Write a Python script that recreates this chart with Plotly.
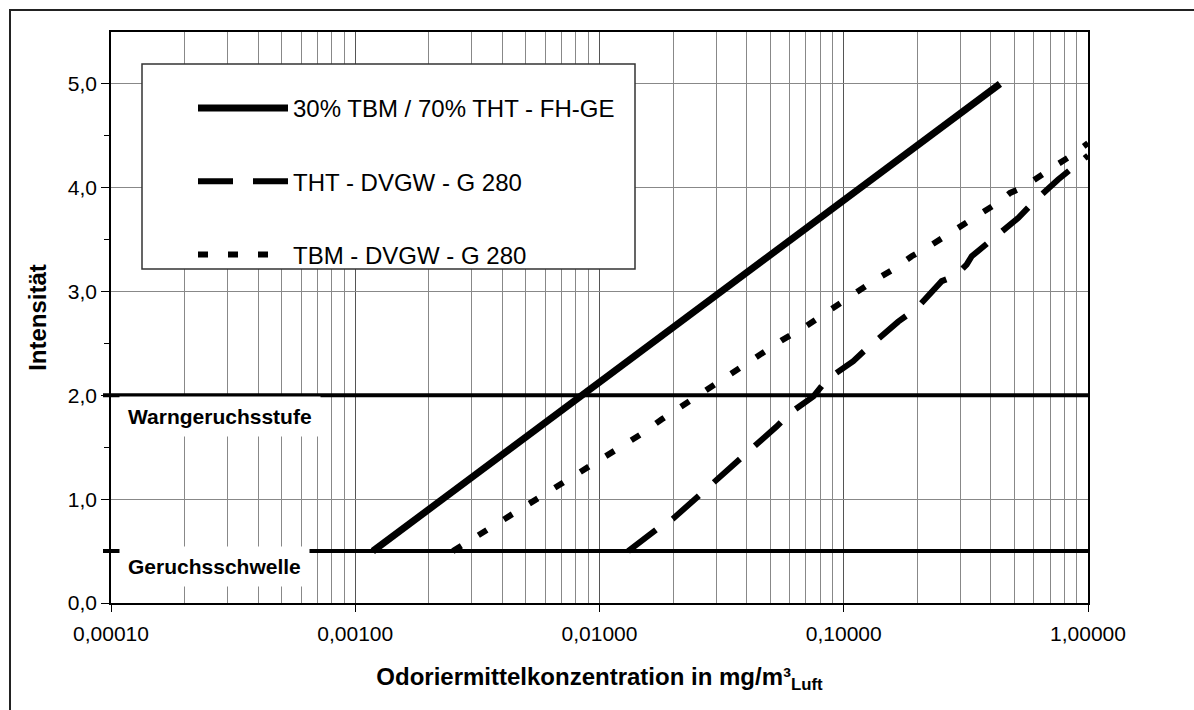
import plotly.graph_objects as go

FONT = "Arial, 'Liberation Sans', sans-serif"

# ---------------- data ----------------
series_names = ["30% TBM / 70% THT - FH-GE", "THT - DVGW - G 280", "TBM - DVGW - G 280"]

mix_x = [0.00118, 0.436]
mix_y = [0.50, 5.00]

tht_x = [0.0131, 0.01714, 0.01995, 0.02576, 0.02924, 0.03758, 0.04198, 0.05309,
         0.06026, 0.07516, 0.08511, 0.1094, 0.1202, 0.1476, 0.1671, 0.1991,
         0.2188, 0.2518, 0.2858, 0.3184, 0.3342, 0.3784, 0.4093, 0.4943,
         0.5188, 0.5970, 0.6166, 0.7211, 0.7551, 1.0]
tht_y = [0.50, 0.71, 0.81, 1.04, 1.17, 1.38, 1.49, 1.70,
         1.83, 1.99, 2.15, 2.33, 2.42, 2.60, 2.71, 2.84,
         2.95, 3.10, 3.15, 3.26, 3.34, 3.44, 3.52, 3.66,
         3.71, 3.86, 3.89, 4.05, 4.08, 4.31]

tbm_x = [0.00251, 0.00333, 0.00428, 0.00545, 0.00700, 0.00891, 0.01138, 0.01466,
         0.01799, 0.02275, 0.02877, 0.03589, 0.04395, 0.05572, 0.06934, 0.08375,
         0.1076, 0.1321, 0.1585, 0.1897, 0.2254, 0.2600, 0.2992, 0.3388,
         0.3908, 0.4365, 0.4797, 0.5358, 0.5970, 0.6668, 0.7551, 0.8433, 1.0]
tbm_y = [0.50, 0.68, 0.84, 0.99, 1.15, 1.31, 1.47, 1.62,
         1.77, 1.93, 2.08, 2.24, 2.37, 2.53, 2.66, 2.79,
         2.95, 3.10, 3.21, 3.34, 3.44, 3.53, 3.63, 3.71,
         3.79, 3.87, 3.95, 4.00, 4.07, 4.15, 4.23, 4.30, 4.43]

threshold_values = [2.0, 0.5]
threshold_labels = ["Warngeruchsstufe", "Geruchsschwelle"]

x_tickvals = [0.0001, 0.001, 0.01, 0.1, 1.0]
x_ticktext = ["0,00010", "0,00100", "0,01000", "0,10000", "1,00000"]
x_minor_mantissas = [2, 3, 4, 5, 6, 7, 8, 9]
y_tickvals = [0, 1, 2, 3, 4, 5]
y_ticktext = ["0,0", "1,0", "2,0", "3,0", "4,0", "5,0"]
y_minor_tickvals = [0.5, 1.5, 2.5, 3.5, 4.5]

x_title = "<b>Odoriermittelkonzentration in mg/m³<sub>Luft</sub></b>"
y_title = "<b>Intensität</b>"

# ---------------- figure ----------------
W, H = 1194, 710
ML, MR, MT, MB = 111, 106, 32, 107
PW = W - ML - MR
PH = H - MT - MB


def px_x(px):
    return (px - ML) / PW


def px_y(py):
    return (H - MB - py) / PH


x_minor_vals = [m * d for d in x_tickvals[:-1] for m in x_minor_mantissas]

fig = go.Figure()

fig.add_trace(go.Scatter(
    x=mix_x, y=mix_y, mode="lines", name=series_names[0], legendgroup="g1",
    line=dict(color="black", width=7)))
fig.add_trace(go.Scatter(
    x=tht_x, y=tht_y, mode="lines", name=series_names[1], legendgroup="g2",
    line=dict(color="black", width=6, dash="35px,20px")))
fig.add_trace(go.Scatter(
    x=tbm_x, y=tbm_y, mode="lines", name=series_names[2], legendgroup="g3",
    line=dict(color="black", width=6, dash="10px,20px")))

shapes = []
# outer frame of the chart object (only left and top edges visible)
shapes.append(dict(type="rect", xref="paper", yref="paper",
                   x0=px_x(10), x1=px_x(1230), y0=px_y(740), y1=px_y(10),
                   line=dict(color="#222", width=2), fillcolor="rgba(0,0,0,0)",
                   layer="below"))
# legend frame
shapes.append(dict(type="rect", xref="paper", yref="paper",
                   x0=px_x(142), x1=px_x(635), y0=px_y(269), y1=px_y(64),
                   line=dict(color="#333", width=1.5), fillcolor="white",
                   layer="above"))
# threshold lines
for v in threshold_values:
    shapes.append(dict(type="line", xref="paper", yref="y",
                       x0=px_x(103), x1=1.0, y0=v, y1=v,
                       line=dict(color="black", width=4), layer="above"))

annotations = [
    dict(text="<b>" + threshold_labels[0] + "</b>", xref="paper", yref="paper",
         x=px_x(220), y=px_y(416.5), xanchor="center", yanchor="middle",
         showarrow=False, font=dict(family=FONT, size=21, color="black"),
         bgcolor="white", borderpad=8),
    dict(text="<b>" + threshold_labels[1] + "</b>", xref="paper", yref="paper",
         x=px_x(214), y=px_y(566), xanchor="center", yanchor="middle",
         showarrow=False, font=dict(family=FONT, size=21, color="black"),
         bgcolor="white", borderpad=8),
]

fig.update_layout(
    width=W, height=H,
    margin=dict(l=ML, r=MR, t=MT, b=MB),
    paper_bgcolor="white", plot_bgcolor="white",
    separators=",.",
    font=dict(family=FONT, color="black", size=21),
    shapes=shapes,
    annotations=annotations,
    legend=dict(
        x=px_x(193), y=px_y(86), xanchor="left", yanchor="top",
        bgcolor="rgba(0,0,0,0)", borderwidth=0,
        font=dict(family=FONT, size=24, color="black"),
        itemwidth=90, tracegroupgap=39, traceorder="grouped",
    ),
    showlegend=True,
)

fig.update_xaxes(
    type="log", range=[-4, 0],
    tickmode="array", tickvals=x_tickvals, ticktext=x_ticktext,
    ticks="outside", ticklen=7, tickcolor="black", tickwidth=1,
    ticklabelstandoff=4,
    tickfont=dict(family=FONT, size=21, color="black"),
    showline=True, linecolor="black", linewidth=1.5, mirror=True,
    showgrid=True, gridcolor="#555", gridwidth=1,
    minor=dict(tickmode="array", tickvals=x_minor_vals, showgrid=True,
               gridcolor="#888", gridwidth=1, ticks=""),
    zeroline=False,
    title=dict(text=x_title, font=dict(family=FONT, size=24, color="black"), standoff=24),
)

fig.update_yaxes(
    range=[0, 5.5],
    tickmode="array", tickvals=y_tickvals, ticktext=y_ticktext,
    ticks="outside", ticklen=8, tickcolor="black", tickwidth=1,
    tickfont=dict(family=FONT, size=21, color="black"),
    showline=True, linecolor="black", linewidth=1.5, mirror=True,
    showgrid=True, gridcolor="#888", gridwidth=1,
    minor=dict(tickmode="array", tickvals=y_minor_tickvals, ticks="outside",
               ticklen=5, tickcolor="black", showgrid=False),
    zeroline=False,
    title=dict(text=y_title, font=dict(family=FONT, size=24, color="black"), standoff=14),
)

fig.write_html("out.html")
